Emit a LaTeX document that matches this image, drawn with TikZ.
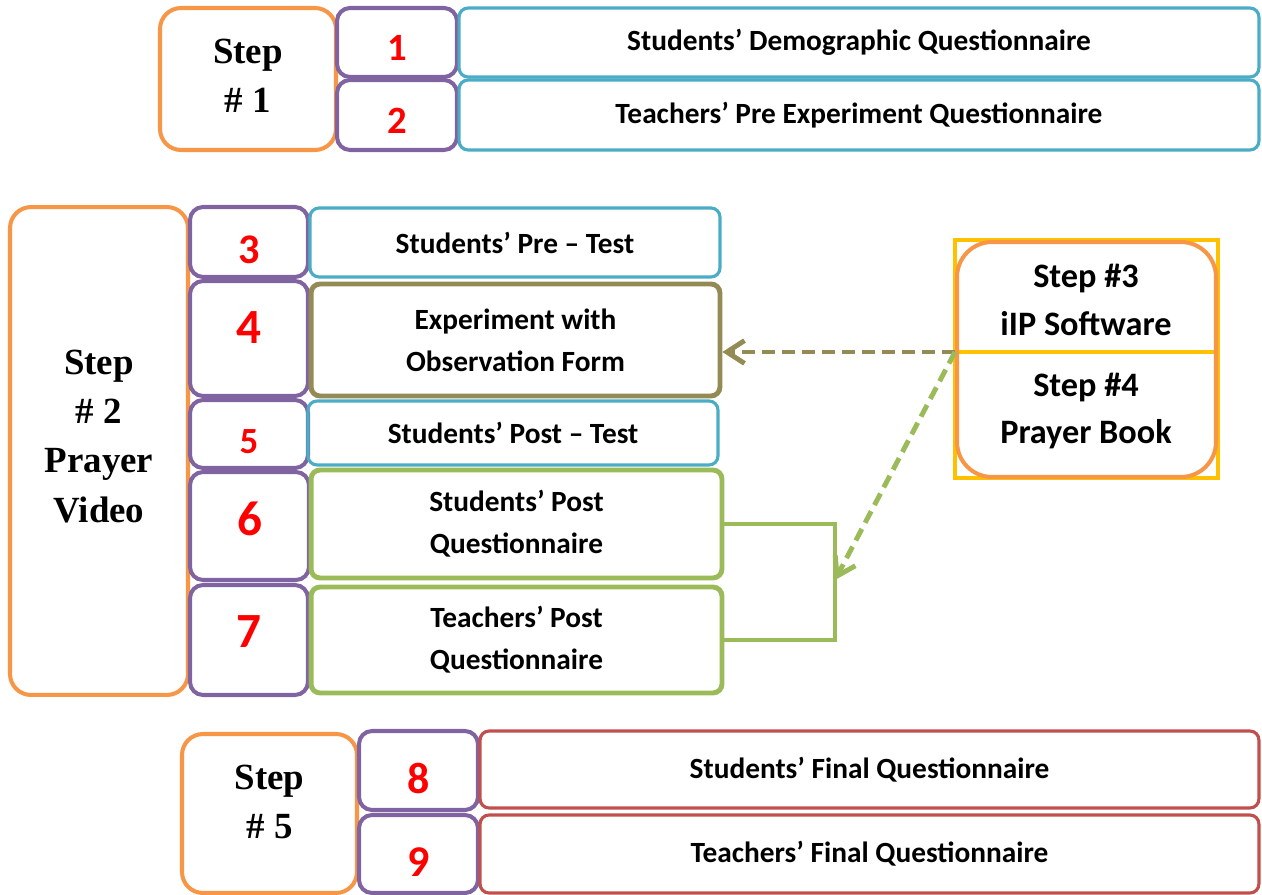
\documentclass[tikz,border=0pt]{standalone}
\usepackage{fontspec}
\setmainfont{Carlito}
\newfontfamily\timesfont{Liberation Serif}
\usepackage{xcolor}
\usepackage{tikz}
\usetikzlibrary{arrows.meta, calc}

\definecolor{stepor}{HTML}{F79646}
\definecolor{numpu}{HTML}{8064A2}
\definecolor{itembl}{HTML}{4BACC6}
\definecolor{itemol}{HTML}{948A54}
\definecolor{itemgr}{HTML}{9BBB59}
\definecolor{itemrd}{HTML}{C0504D}
\definecolor{frameye}{HTML}{FFC000}

\tikzset{
  stepbox/.style={draw=stepor, line width=2.3pt, rounded corners=0.42cm,
    inner sep=0pt, align=center,
    font=\timesfont\bfseries\fontsize{21}{28}\selectfont},
  numbox/.style={draw=numpu, line width=2.3pt, rounded corners=0.26cm,
    inner sep=0pt},
  numlab/.style={text=red, inner sep=0pt,
    font=\bfseries\fontsize{#1}{#1}\selectfont},
  itembox/.style={draw=#1, line width=1.8pt, rounded corners=0.18cm,
    inner sep=0pt, align=center,
    font=\bfseries\fontsize{16.7}{24}\selectfont},
  linkarrow/.style={-{Straight Barb[length=10pt, width=13pt]}, #1,
    line width=2.8pt, dash pattern=on 0.26cm off 0.14cm},
}

\begin{document}
\begin{tikzpicture}[x=0.02cm, y=-0.02cm]
    \useasboundingbox (0,0) rectangle (1262,895);
    % --- Step 1 ---
    \node[stepbox, minimum width=3.52cm, minimum height=2.84cm,
          text depth=3.4pt] (step1) at (248,79) {Step\\\# 1};
    \node[numbox, minimum width=2.4cm, minimum height=1.38cm,
          label={[numlab=22, yshift=-0.1cm]center:1}] (num1) at (397,42.5) {};
    \node[numbox, minimum width=2.4cm, minimum height=1.4cm,
          label={[numlab=22, yshift=-0.12cm]center:2}] (num2) at (397,115) {};
    \node[itembox=itembl, minimum width=16cm, minimum height=1.38cm]
      (item1) at (859,42.5) {Students’ Demographic Questionnaire};
    \node[itembox=itembl, minimum width=16cm, minimum height=1.4cm]
      (item2) at (859,115) {Teachers’ Pre Experiment Questionnaire};
    % --- Step 2 ---
    \node[stepbox, minimum width=3.56cm, minimum height=9.76cm,
          text depth=17pt] (step2) at (99,451) {Step\\\# 2\\Prayer\\Video};
    \node[numbox, minimum width=2.36cm, minimum height=1.4cm,
          label={[numlab=24, yshift=-0.16cm]center:3}] (num3) at (249,242) {};
    \node[numbox, minimum width=2.36cm, minimum height=2.3cm,
          label={[numlab=28, yshift=0.22cm]center:4}] (num4) at (249,338.5) {};
    \node[numbox, minimum width=2.36cm, minimum height=1.36cm,
          label={[numlab=21, yshift=-0.16cm]center:5}] (num5) at (249,434) {};
    \node[numbox, minimum width=2.38cm, minimum height=2.16cm,
          label={[numlab=28, yshift=0.14cm]center:6}] (num6) at (249.5,526) {};
    \node[numbox, minimum width=2.36cm, minimum height=2.2cm,
          label={[numlab=28, yshift=0.16cm]center:7}] (num7) at (249,640) {};
    \node[itembox=itembl, minimum width=8.2cm, minimum height=1.38cm]
      (item3) at (515,242.5) {Students’ Pre – Test};
    \node[itembox=itemol, line width=2.8pt, minimum width=8.18cm,
          minimum height=2.24cm] (item4) at (515.5,340)
      {Experiment with\\Observation Form};
    \node[itembox=itembl, minimum width=8.2cm, minimum height=1.28cm]
      (item5) at (513,433) {Students’ Post – Test};
    \node[itembox=itemgr, line width=2.8pt, minimum width=8.22cm,
          minimum height=2.16cm] (item6) at (516.5,524)
      {Students’ Post\\Questionnaire};
    \node[itembox=itemgr, line width=2.8pt, minimum width=8.22cm,
          minimum height=2.12cm] (item7) at (516.5,640)
      {Teachers’ Post\\Questionnaire};
    % --- Steps 3 and 4 ---
    \node[draw=frameye, line width=2.2pt, inner sep=0pt,
          minimum width=5.26cm, minimum height=4.76cm] (tframe) at (1086.5,359) {};
    \coordinate (split) at (955,352);
    \draw[frameye, line width=2.6pt] (split) -- (split -| tframe.east);
    \node[draw=stepor, line width=2.3pt, rounded corners=0.7cm, inner sep=0pt,
          minimum width=5.18cm, minimum height=4.7cm] (tools) at (1086.5,359.5) {};
    \node[align=center, font=\bfseries\fontsize{19.5}{27}\selectfont]
      (soft) at (1086,300) {Step \#3\\iIP Software};
    \node[align=center, font=\bfseries\fontsize{19.5}{27}\selectfont]
      (book) at (1086,411) {Step \#4\\Prayer Book};
    % --- Links ---
    \coordinate (join) at (835,580);
    \draw[itemgr, line width=2.8pt] (item6.east) -- (item6.east -| join)
      -- (item7.east -| join) -- (item7.east);
    \draw[linkarrow=itemol] (split) -- (split -| item4.east);
    \draw[linkarrow=itemgr] (split) -- (join);
    % --- Step 5 ---
    \node[stepbox, minimum width=3.5cm, minimum height=3.18cm,
          text depth=13.6pt] (step5) at (269.5,813.5) {Step\\\# 5};
    \node[numbox, minimum width=2.38cm, minimum height=1.58cm,
          label={[numlab=25, yshift=-0.16cm]center:8}] (num8) at (418.5,770.5) {};
    \node[numbox, minimum width=2.38cm, minimum height=1.56cm,
          label={[numlab=25, yshift=-0.16cm]center:9}] (num9) at (418.5,854) {};
    \node[itembox=itemrd, minimum width=15.58cm, minimum height=1.54cm]
      (item8) at (869.5,769.5) {Students’ Final Questionnaire};
    \node[itembox=itemrd, minimum width=15.58cm, minimum height=1.56cm]
      (item9) at (869.5,854) {Teachers’ Final Questionnaire};
\end{tikzpicture}
\end{document}
